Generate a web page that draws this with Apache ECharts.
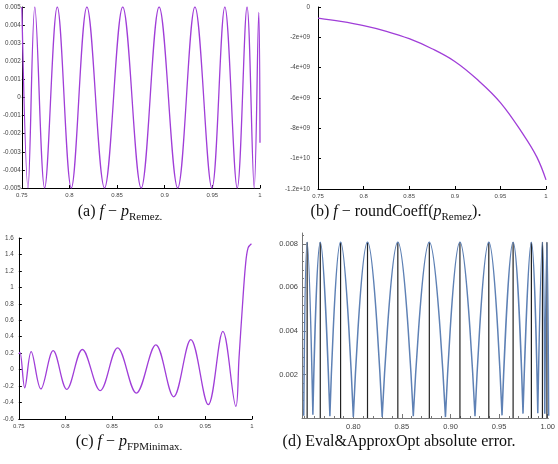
<!DOCTYPE html>
<html>
<head>
<meta charset="utf-8">
<script src="https://cdn.jsdelivr.net/npm/echarts@6/dist/echarts.min.js"></script>
<style>
  html, body { margin: 0; padding: 0; background: #fff; }
  #chart { width: 558px; height: 464px; }
</style>
</head>
<body>
<div id="chart"></div>
<script>
// (a) f - p_Remez : extrema (x, error)
const remezX = [0.7500, 0.7565, 0.7636, 0.7739, 0.7872, 0.8019, 0.8183, 0.8368, 0.8559, 0.8753,
  0.8941, 0.9136, 0.9317, 0.9495, 0.9631, 0.9761, 0.9864, 0.9939, 0.9987, 1.0000];
const remezY = [0.005, -0.005, 0.005, -0.005, 0.005, -0.005, 0.005, -0.005, 0.005, -0.005,
  0.005, -0.005, 0.005, -0.005, 0.005, -0.005, 0.005, -0.005, 0.0047, -0.0025];

// (b) f - roundCoeff(p_Remez)
const roundX = [0.75, 0.775, 0.8, 0.825, 0.85, 0.875, 0.9, 0.925, 0.95, 0.975, 0.99, 1.0];
const roundY = [-0.73e9, -0.95e9, -1.23e9, -1.6e9, -2.09e9, -2.75e9, -3.59e9, -4.8e9, -6.3e9, -8.4e9, -9.9e9, -11.4e9];

// (c) f - p_FPMinimax
const fpX = [0.7500, 0.7512, 0.7563, 0.7632, 0.7736, 0.7868, 0.8014, 0.8181, 0.8372, 0.8559,
  0.8760, 0.8969, 0.9160, 0.9344, 0.9531, 0.9688, 0.9827, 0.9861, 0.9896, 0.9931, 0.9958, 0.9994];
const fpY = [0.19, 0.21, -0.22, 0.22, -0.235, 0.23, -0.24, 0.245, -0.255, 0.265,
  -0.285, 0.30, -0.33, 0.365, -0.426, 0.465, -0.447, 0.145, 0.75, 1.28, 1.48, 1.53];

// (d) Eval&ApproxOpt absolute error: arch tops and the dips between them
const evalPeakX = [0.7525, 0.7660, 0.7869, 0.8146, 0.8458, 0.8782, 0.9097, 0.9394, 0.9644, 0.9832, 0.9946, 0.9992];
const evalPeakY = [0.00807, 0.00807, 0.00807, 0.00807, 0.00807, 0.00807, 0.00807, 0.00807, 0.00807, 0.00807, 0.00807, 0.00807];
const evalDipX = [0.7490, 0.7584, 0.7759, 0.8000, 0.8297, 0.8617, 0.8948, 0.9252, 0.9530, 0.9746, 0.9898, 0.9970, 1.0010];
const evalDipY = [0.0001, 0.00015, 0.00008, 0.00005, 0.00005, 0.00008, 0.00004, 0.00008, 0.00012, 0.0002, 0.00022, 0.0002, 0.0001];

const evalXTicks = [0.80, 0.85, 0.90, 0.95, 1.00];
const evalXMinor = [0.75, 0.76, 0.77, 0.78, 0.79, 0.81, 0.82, 0.83, 0.84, 0.86, 0.87, 0.88, 0.89,
  0.91, 0.92, 0.93, 0.94, 0.96, 0.97, 0.98, 0.99];
const evalYTicks = [0.002, 0.004, 0.006, 0.008];
const evalYMinor = [0.0004, 0.0008, 0.0012, 0.0016, 0.0024, 0.0028, 0.0032, 0.0036, 0.0044, 0.0048,
  0.0052, 0.0056, 0.0064, 0.0068, 0.0072, 0.0076, 0.0084];

const zip = (xs, ys) => xs.map((x, i) => [x, ys[i]]);

// arches broken at each dip so the bottoms stay sharp
const archData = [];
const stemData = [];
evalPeakX.forEach((x, i) => {
  archData.push([evalDipX[i], evalDipY[i]], [x, evalPeakY[i]], [evalDipX[i + 1], evalDipY[i + 1]], ['-', '-']);
  stemData.push([x, 0], [x, evalPeakY[i]], ['-', '-']);
});

const purple = '#a03ed8';
const sciLabel = v => v === 0 ? '0' : v.toExponential().replace(/e([+-])(\d)$/, 'e$10$2');

function gnuX(gi, extra) {
  return Object.assign({
    type: 'value', gridIndex: gi, min: 0.75, max: 1, interval: 0.05,
    axisLine: { onZero: false, lineStyle: { color: '#000', width: 1 } },
    axisTick: { inside: true, length: 3, lineStyle: { color: '#000' } },
    axisLabel: { fontSize: 6, color: '#444', margin: 4, fontFamily: 'Liberation Sans' },
    splitLine: { show: false }
  }, extra);
}
function gnuY(gi, margin, extra) {
  return Object.assign({
    type: 'value', gridIndex: gi,
    axisLine: { show: true, onZero: false, lineStyle: { color: '#000', width: 1 } },
    axisTick: { show: true, inside: true, length: 3, lineStyle: { color: '#000' } },
    axisLabel: { fontSize: 6.3, color: '#444', margin: margin, fontFamily: 'Liberation Sans' },
    splitLine: { show: false }
  }, extra);
}

const mmaLine = { color: '#777', width: 1 };

const option = {
  animation: false,
  grid: [
    { left: 16, top: 7, width: 244, height: 181 },
    { left: 318, top: 7, width: 228, height: 182 },
    { left: 12, top: 238, width: 240, height: 181 },
    { left: 302, top: 233, width: 256, height: 185 }
  ],
  xAxis: [
    gnuX(0),
    gnuX(1),
    gnuX(2),
    {
      type: 'value', gridIndex: 3, position: 'bottom', min: 0.7472, max: 1.0007,
      axisLine: { onZero: false, lineStyle: mmaLine },
      axisTick: { inside: true, length: 4, customValues: evalXTicks, lineStyle: { color: '#777' } },
      axisLabel: { fontSize: 7.5, color: '#444', margin: 5, customValues: evalXTicks,
        formatter: v => v.toFixed(2), fontFamily: 'Liberation Sans' },
      splitLine: { show: false }
    },
    {
      type: 'value', gridIndex: 3, position: 'bottom', min: 0.7472, max: 1.0007,
      axisLine: { show: false, onZero: false },
      axisTick: { inside: true, length: 2, customValues: evalXMinor, lineStyle: { color: '#777' } },
      axisLabel: { show: false },
      splitLine: { show: false }
    }
  ],
  yAxis: [
    gnuY(0, 1, { min: -0.005, max: 0.005, interval: 0.001 }),
    gnuY(1, 8, { min: -1.2e10, max: 0, interval: 2e9 }),
    gnuY(2, 5, { min: -0.6, max: 1.6, interval: 0.2 }),
    {
      type: 'value', gridIndex: 3, position: 'left', min: 0, max: 0.0085,
      axisLine: { show: true, onZero: false, lineStyle: mmaLine },
      axisTick: { show: true, inside: true, length: 4, customValues: evalYTicks, lineStyle: { color: '#777' } },
      axisLabel: { fontSize: 7.5, color: '#444', margin: 4, customValues: evalYTicks,
        formatter: v => v.toFixed(3), fontFamily: 'Liberation Sans' },
      splitLine: { show: false }
    },
    {
      type: 'value', gridIndex: 3, position: 'left', min: 0, max: 0.0085,
      axisLine: { show: false, onZero: false },
      axisTick: { show: true, inside: true, length: 2, customValues: evalYMinor, lineStyle: { color: '#777' } },
      axisLabel: { show: false },
      splitLine: { show: false }
    }
  ],
  series: [
    { type: 'line', xAxisIndex: 0, yAxisIndex: 0, data: zip(remezX, remezY), smooth: 0.36,
      showSymbol: false, lineStyle: { color: purple, width: 1.3 }, clip: true },
    { type: 'line', xAxisIndex: 1, yAxisIndex: 1, data: zip(roundX, roundY), smooth: 0.4,
      showSymbol: false, lineStyle: { color: purple, width: 1.3 }, clip: true },
    { type: 'line', xAxisIndex: 2, yAxisIndex: 2, data: zip(fpX, fpY), smooth: 0.36,
      showSymbol: false, lineStyle: { color: purple, width: 1.3 }, clip: true },
    { type: 'line', xAxisIndex: 3, yAxisIndex: 3, data: stemData, connectNulls: false,
      showSymbol: false, lineStyle: { color: '#222', width: 1.2 }, clip: true },
    { type: 'line', xAxisIndex: 3, yAxisIndex: 3, data: archData, connectNulls: false, smooth: 0.45,
      showSymbol: false, lineStyle: { color: '#5e81b5', width: 1.5 }, clip: true }
  ]
};
option.yAxis[1].axisLabel.formatter = sciLabel;

const capFont = 'Liberation Serif';
const rich = {
  n: { fontFamily: capFont, fontSize: 16, lineHeight: 21, verticalAlign: 'middle', fill: '#111' },
  i: { fontFamily: capFont, fontSize: 16, lineHeight: 21, fontStyle: 'italic', verticalAlign: 'middle', fill: '#111' },
  s: { fontFamily: capFont, fontSize: 11, lineHeight: 12, verticalAlign: 'bottom', fill: '#111' }
};
function caption(cx, cy, text) {
  return { type: 'text', x: cx, y: cy,
    style: { text: text, rich: rich, align: 'center', verticalAlign: 'middle',
      fontFamily: capFont, fontSize: 16, fill: '#111' } };
}
option.graphic = [
  caption(120, 212, '{n|(a) }{i|f}{n| − }{i|p}{s|Remez.}'),
  caption(396, 212, '{n|(b) }{i|f}{n| − roundCoeff(}{i|p}{s|Remez}{n|).}'),
  caption(129, 442, '{n|(c) }{i|f}{n| − }{i|p}{s|FPMinimax.}'),
  caption(399, 442, '{n|(d) Eval&ApproxOpt absolute error.}')
];

const chart = echarts.init(document.getElementById('chart'));
chart.setOption(option);
</script>
</body>
</html>
